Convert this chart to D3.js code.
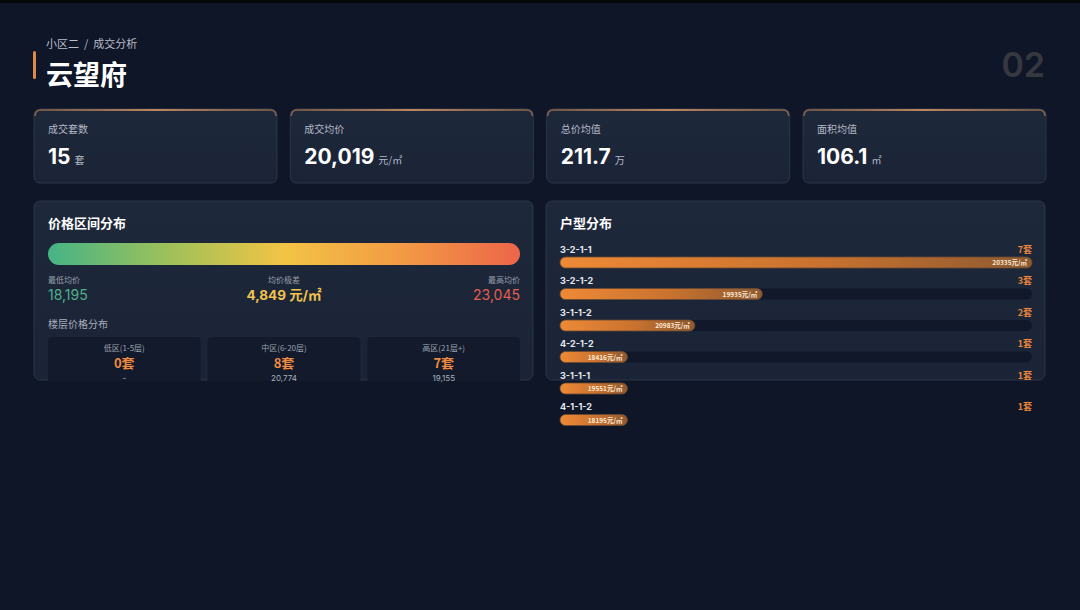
<!DOCTYPE html>
<html>
<head>
<meta charset="utf-8">
<script src="https://cdn.jsdelivr.net/npm/d3@7"></script>
<style>
  html, body { margin: 0; padding: 0; background: #0f1628; overflow: hidden; }
  svg { display: block; font-family: Inter, "Noto Sans CJK SC", sans-serif; }
</style>
</head>
<body>
<div id="chart"></div>
<script>
const WIDTH = 1080;
const HEIGHT = 610;

// Header
const CRUMB = "小区二 / 成交分析";
const TITLE = "云望府";
const PAGE_NO = "02";

// KPI cards
const kpiLabels = ["成交套数", "成交均价", "总价均值", "面积均值"];
const kpiValues = ["15", "20,019", "211.7", "106.1"];
const kpiUnits  = ["套", "元/㎡", "万", "㎡"];

// price range
const priceMin = 18195;
const priceMax = 23045;
const priceSpread = 4849;   // as shown on the card (rounded from raw values)
const priceStops = ["#46b386", "#9cc15a", "#f2c445", "#f39a44", "#ec6549"];

// floor distribution
const floorNames  = ["低区(1-5层)", "中区(6-20层)", "高区(21层+)"];
const floorCounts = [0, 8, 7];
const floorPrices = [null, 20774, 19155];

// unit types
const unitTypes  = ["3-2-1-1", "3-2-1-2", "3-1-1-2", "4-2-1-2", "3-1-1-1", "4-1-1-2"];
const unitCounts = [7, 3, 2, 1, 1, 1];
const unitPrices = [20335, 19935, 20983, 18416, 19551, 18195];

const fmt = d3.format(",");

window.onload = function() {

  var svg = d3.select("#chart").append("svg")
              .attr("width", WIDTH)
              .attr("height", HEIGHT);

  var defs = svg.append("defs");

  // top edge glow of cards
  var tg = defs.append("linearGradient").attr("id", "topline");
  tg.append("stop").attr("offset", "0%").attr("stop-color", "#e89a5c").attr("stop-opacity", 0.5);
  tg.append("stop").attr("offset", "50%").attr("stop-color", "#f0a46a").attr("stop-opacity", 1);
  tg.append("stop").attr("offset", "100%").attr("stop-color", "#e89a5c").attr("stop-opacity", 0.5);

  var cg = defs.append("linearGradient").attr("id", "cardbg").attr("x1", 0).attr("y1", 0).attr("x2", 0).attr("y2", 1);
  cg.append("stop").attr("offset", "0%").attr("stop-color", "#1e283b");
  cg.append("stop").attr("offset", "100%").attr("stop-color", "#1b2437");

  var pg = defs.append("linearGradient").attr("id", "price");
  priceStops.forEach(function(c, i) {
    pg.append("stop").attr("offset", (i / (priceStops.length - 1) * 100) + "%").attr("stop-color", c);
  });

  var bg = defs.append("linearGradient").attr("id", "bar");
  bg.append("stop").attr("offset", "0%").attr("stop-color", "#ee8a36");
  bg.append("stop").attr("offset", "55%").attr("stop-color", "#c9722f");
  bg.append("stop").attr("offset", "100%").attr("stop-color", "#8e5a30");

  // page background + top black strip
  svg.append("rect").attr("width", WIDTH).attr("height", HEIGHT).attr("fill", "#0f1628");
  svg.append("rect").attr("width", WIDTH).attr("height", 3).attr("fill", "#05070c");

  // ---- header
  svg.append("text").attr("x", 46).attr("y", 48)
     .attr("font-size", 11).attr("fill", "#b9bdc8")
     .attr("font-family", "'Noto Sans CJK SC'")
     .attr("xml:space", "preserve")
     .text(CRUMB.replace(" / ", "  /  "));
  svg.append("rect").attr("x", 33).attr("y", 51).attr("width", 3).attr("height", 28)
     .attr("rx", 1.5).attr("fill", "#e08a4a");
  svg.append("text").attr("x", 46).attr("y", 85)
     .attr("font-size", 27).attr("font-weight", 700).attr("fill", "#ffffff")
     .attr("font-family", "'Noto Sans CJK SC'")
     .text(TITLE);
  svg.append("text").attr("x", 1045).attr("y", 77).attr("text-anchor", "end")
     .attr("font-size", 34).attr("font-weight", 600).attr("fill", "#35383f")
     .text(PAGE_NO);

  // ---- KPI cards
  var kx = d3.scaleBand().domain(d3.range(kpiLabels.length)).range([34, 1046]).paddingInner(0.052);

  var kpi = svg.selectAll("g.kpi").data(kpiLabels).enter().append("g")
               .attr("class", "kpi")
               .attr("transform", function(d, i) { return "translate(" + kx(i) + ",109)"; });

  kpi.append("rect").attr("width", kx.bandwidth()).attr("height", 74).attr("rx", 6)
     .attr("fill", "url(#cardbg)").attr("stroke", "#2c3649").attr("stroke-width", 1);
  kpi.append("path")
     .attr("d", "M1,7 Q1,1 7," + 1 + " L" + (kx.bandwidth() - 7) + ",1 Q" + (kx.bandwidth() - 1) + ",1 " + (kx.bandwidth() - 1) + ",7")
     .attr("fill", "none").attr("stroke", "url(#topline)").attr("stroke-width", 1.6);
  kpi.append("text").attr("x", 14).attr("y", 24)
     .attr("font-size", 10).attr("fill", "#b3b8c4")
     .attr("font-family", "'Noto Sans CJK SC'")
     .text(function(d) { return d; });
  var vt = kpi.append("text").attr("x", 14).attr("y", 55);
  vt.append("tspan").attr("font-size", 21).attr("font-weight", 700).attr("fill", "#ffffff")
    .text(function(d, i) { return kpiValues[i]; });
  vt.append("tspan").attr("dx", 4).attr("font-size", 10).attr("fill", "#b3b8c4")
    .attr("font-family", "'Noto Sans CJK SC'")
    .text(function(d, i) { return kpiUnits[i]; });

  // ---- panels
  var panels = [{x: 34, title: "价格区间分布"}, {x: 546, title: "户型分布"}];
  panels.forEach(function(p) {
    svg.append("rect").attr("x", p.x).attr("y", 201).attr("width", 499).attr("height", 179).attr("rx", 6)
       .attr("fill", "url(#cardbg)").attr("stroke", "#2c3649");
    svg.append("text").attr("x", p.x + 14).attr("y", 228)
       .attr("font-size", 13).attr("font-weight", 700).attr("fill", "#ffffff")
       .attr("font-family", "'Noto Sans CJK SC'")
       .text(p.title);
  });

  // ---- price range bar
  var px = d3.scaleLinear().domain([priceMin, priceMax]).range([48, 520]);
  svg.append("rect").attr("x", px(priceMin)).attr("y", 243)
     .attr("width", px(priceMax) - px(priceMin)).attr("height", 22).attr("rx", 11)
     .attr("fill", "url(#price)");

  var stats = [
    {lab: "最低均价", val: fmt(priceMin), x: px(priceMin), anchor: "start", color: "#4fb08a"},
    {lab: "均价极差", val: fmt(priceSpread) + " 元/㎡", x: px((priceMin + priceMax) / 2), anchor: "middle", color: "#f1c24e", bold: true},
    {lab: "最高均价", val: fmt(priceMax), x: px(priceMax), anchor: "end", color: "#e35f4c"}
  ];
  var sg = svg.selectAll("g.stat").data(stats).enter().append("g").attr("class", "stat");
  sg.append("text").attr("x", function(d) { return d.x; }).attr("y", 283)
    .attr("text-anchor", function(d) { return d.anchor; })
    .attr("font-size", 8).attr("fill", "#9aa0ad")
    .attr("font-family", "'Noto Sans CJK SC'")
    .text(function(d) { return d.lab; });
  sg.append("text").attr("x", function(d) { return d.x; }).attr("y", 300)
    .attr("text-anchor", function(d) { return d.anchor; })
    .attr("font-size", function(d) { return d.bold ? 13.5 : 14; })
    .attr("font-weight", function(d) { return d.bold ? 700 : 400; })
    .attr("fill", function(d) { return d.color; })
    .text(function(d) { return d.val; });

  svg.append("text").attr("x", 48).attr("y", 328)
     .attr("font-size", 10).attr("fill", "#a9aebb")
     .attr("font-family", "'Noto Sans CJK SC'")
     .text("楼层价格分布");

  // ---- floor cards
  var fx = d3.scaleBand().domain(d3.range(floorNames.length)).range([48, 520]).paddingInner(0.045);
  var fl = svg.selectAll("g.floor").data(floorNames).enter().append("g")
              .attr("class", "floor")
              .attr("transform", function(d, i) { return "translate(" + fx(i) + ",337)"; });
  fl.append("path")
    .attr("d", "M0,44 L0,4 Q0,0 4,0 L" + (fx.bandwidth() - 4) + ",0 Q" + fx.bandwidth() + ",0 " + fx.bandwidth() + ",4 L" + fx.bandwidth() + ",44 Z")
    .attr("fill", "#121a2c");
  fl.append("text").attr("x", fx.bandwidth() / 2).attr("y", 14).attr("text-anchor", "middle")
    .attr("font-size", 8).attr("fill", "#9ea3b0")
    .attr("font-family", "'Noto Sans CJK SC'")
    .text(function(d) { return d; });
  fl.append("text").attr("x", fx.bandwidth() / 2).attr("y", 31).attr("text-anchor", "middle")
    .attr("font-size", 13).attr("font-weight", 700).attr("fill", "#f08a3e")
    .attr("font-family", "'Noto Sans CJK SC'")
    .text(function(d, i) { return floorCounts[i] + "套"; });
  fl.append("text").attr("x", fx.bandwidth() / 2).attr("y", 44).attr("text-anchor", "middle")
    .attr("font-size", 8).attr("fill", "#a9aebb")
    .text(function(d, i) { return floorPrices[i] == null ? "-" : fmt(floorPrices[i]); });

  // ---- unit type bars
  var uy = d3.scaleBand().domain(unitTypes).range([243, 432]);
  var ux = d3.scaleLinear().domain([0, d3.max(unitCounts)]).range([0, 472]);
  var X0 = 560;

  var row = svg.selectAll("g.unit").data(unitTypes).enter().append("g")
               .attr("class", "unit")
               .attr("transform", function(d) { return "translate(" + X0 + "," + uy(d) + ")"; });

  row.append("text").attr("x", 0).attr("y", 9.5)
     .attr("font-size", 9).attr("font-weight", 700).attr("fill", "#e6e8ee")
     .text(function(d) { return d; });
  row.append("text").attr("x", ux.range()[1]).attr("y", 9.5).attr("text-anchor", "end")
     .attr("font-size", 9).attr("font-weight", 700).attr("fill", "#e8843c")
     .attr("font-family", "'Noto Sans CJK SC'")
     .text(function(d, i) { return unitCounts[i] + "套"; });
  row.append("rect").attr("x", 0).attr("y", 14).attr("width", ux.range()[1]).attr("height", 11).attr("rx", 5.5)
     .attr("fill", "#0f1628").attr("fill-opacity", 0.85);
  row.append("rect").attr("x", 0).attr("y", 14)
     .attr("width", function(d, i) { return ux(unitCounts[i]); })
     .attr("height", 11).attr("rx", 5.5)
     .attr("fill", "url(#bar)").attr("stroke", "#6a4a34").attr("stroke-width", 0.8);
  row.append("text")
     .attr("x", function(d, i) { return ux(unitCounts[i]) - 5; })
     .attr("y", 22.3).attr("text-anchor", "end")
     .attr("font-size", 6.5).attr("font-weight", 600).attr("fill", "#fbe9d6")
     .attr("font-family", "'Noto Sans CJK SC'")
     .text(function(d, i) { return unitPrices[i] + "元/㎡"; });
};
</script>
</body>
</html>
